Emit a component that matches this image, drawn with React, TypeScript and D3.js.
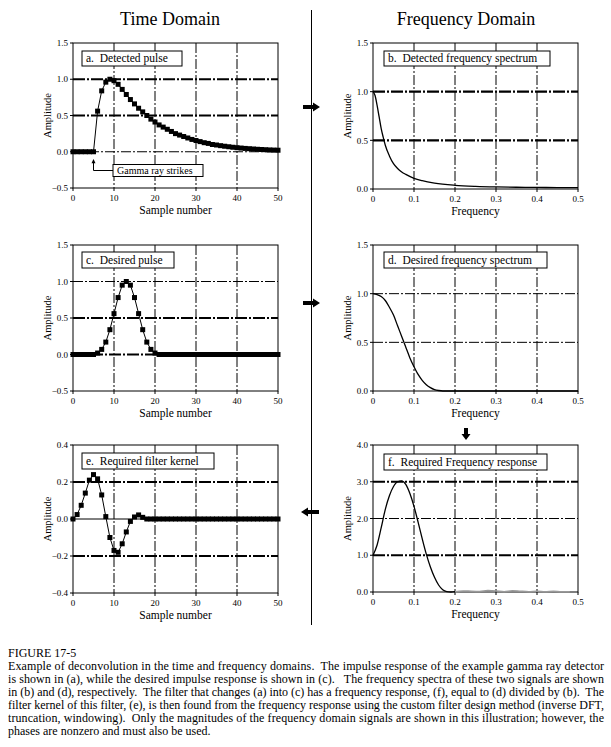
import React from "react";
import * as d3 from "d3";

// ---------- tick values ----------
const sampleTicks = [0, 10, 20, 30, 40, 50];
const freqTicks = [0, 0.1, 0.2, 0.3, 0.4, 0.5];
const pulseTicks = [-0.5, 0, 0.5, 1.0, 1.5];
const specTicks = [0, 0.5, 1.0, 1.5];
const kernelTicks = [-0.4, -0.2, 0, 0.2, 0.4];
const responseTicks = [0, 1, 2, 3, 4];

// ---------- time-domain data (sample 0..50) ----------
const detectedPulse = [
  0, 0, 0, 0, 0, 0, 0.56, 0.84, 0.96, 1.0, 0.98, 0.93, 0.86, 0.79, 0.72, 0.66,
  0.6, 0.55, 0.5, 0.45, 0.41, 0.37, 0.34, 0.31, 0.28, 0.25, 0.23, 0.21, 0.19,
  0.17, 0.155, 0.14, 0.125, 0.115, 0.1, 0.093, 0.084, 0.076, 0.069, 0.062,
  0.056, 0.051, 0.046, 0.042, 0.038, 0.034, 0.031, 0.028, 0.025, 0.023, 0.021,
];
const desiredPulse = [
  0, 0, 0, 0, 0, 0, 0.02, 0.07, 0.17, 0.34, 0.56, 0.78, 0.95, 1.0, 0.95, 0.78,
  0.56, 0.34, 0.17, 0.07, 0.02, 0, 0, 0, 0, 0, 0, 0, 0, 0, 0, 0, 0, 0, 0, 0, 0,
  0, 0, 0, 0, 0, 0, 0, 0, 0, 0, 0, 0, 0, 0,
];
const filterKernel = [
  0, 0.024, 0.074, 0.14, 0.21, 0.24, 0.217, 0.13, 0.013, -0.1, -0.17, -0.18,
  -0.134, -0.07, -0.013, 0.011, 0.022, 0.009, 0, 0, 0, 0, 0, 0, 0, 0, 0, 0, 0,
  0, 0, 0, 0, 0, 0, 0, 0, 0, 0, 0, 0, 0, 0, 0, 0, 0, 0, 0, 0, 0, 0,
];

// ---------- frequency-domain data ----------
const detectedFreq = [0, 0.005, 0.01, 0.015, 0.02, 0.025, 0.03, 0.04, 0.05, 0.06, 0.07, 0.08, 0.1, 0.12, 0.15, 0.2, 0.25, 0.3, 0.35, 0.4, 0.45, 0.5];
const detectedSpectrum = [1.0, 0.96, 0.86, 0.74, 0.62, 0.53, 0.45, 0.34, 0.26, 0.21, 0.175, 0.15, 0.11, 0.085, 0.06, 0.038, 0.027, 0.021, 0.018, 0.016, 0.015, 0.015];

const desiredFreq = [0, 0.01, 0.02, 0.03, 0.04, 0.05, 0.06, 0.07, 0.08, 0.09, 0.1, 0.11, 0.12, 0.13, 0.14, 0.15, 0.16, 0.17, 0.18, 0.5];
const desiredSpectrum = [1.0, 0.99, 0.97, 0.93, 0.86, 0.78, 0.67, 0.56, 0.45, 0.34, 0.25, 0.17, 0.11, 0.065, 0.035, 0.015, 0.005, 0.0, 0.0, 0.0];

const responseFreq = [0, 0.01, 0.02, 0.03, 0.04, 0.05, 0.06, 0.07, 0.08, 0.09, 0.1, 0.11, 0.12, 0.13, 0.14, 0.15, 0.16, 0.17, 0.18, 0.19, 0.2];
const responseValue = [1.0, 1.28, 1.75, 2.25, 2.62, 2.87, 3.0, 3.02, 2.93, 2.68, 2.33, 1.9, 1.45, 1.03, 0.68, 0.4, 0.19, 0.06, 0.01, 0.0, 0.01];
const responseTailFreq = [0.2, 0.22, 0.24, 0.26, 0.28, 0.3, 0.32, 0.34, 0.36, 0.38, 0.4, 0.42, 0.44, 0.46, 0.48];
const responseTailValue = [0.01, 0.03, 0.02, 0.015, 0.04, 0.03, 0.01, 0.035, 0.02, 0.01, 0.02, 0.01, 0.02, 0.01, 0.01];

const captionLines = [
  "Example of deconvolution in the time and frequency domains.  The impulse response of the example gamma ray detector",
  "is shown in (a), while the desired impulse response is shown in (c).   The frequency spectra of these two signals are shown",
  "in (b) and (d), respectively.  The filter that changes (a) into (c) has a frequency response, (f), equal to (d) divided by (b).  The",
  "filter kernel of this filter, (e), is then found from the frequency response using the custom filter design method (inverse DFT,",
  "truncation, windowing).  Only the magnitudes of the frequency domain signals are shown in this illustration; however, the",
];
const captionLast = "phases are nonzero and must also be used.";

const FONT = "'Liberation Serif', 'Times New Roman', serif";

type GridStyle = "thick" | "thin" | "solid";

interface PanelProps {
  left: number;
  top: number;
  width: number;
  height: number;
  xDomain: [number, number];
  yDomain: [number, number];
  xTicks: number[];
  yTicks: number[];
  xFmt: (v: number) => string;
  yFmt: (v: number) => string;
  hGrid: { v: number; s: GridStyle }[];
  xLabel: string;
  label: string;
  box: [number, number, number, number];
  render: (x: d3.ScaleLinear<number, number>, y: d3.ScaleLinear<number, number>) => React.ReactNode;
}

function Panel(p: PanelProps) {
  const x = d3.scaleLinear().domain(p.xDomain).range([p.left, p.left + p.width]);
  const y = d3.scaleLinear().domain(p.yDomain).range([p.top + p.height, p.top]);
  const bottom = p.top + p.height;
  const inner = p.xTicks.slice(1, -1);
  return (
    <g>
      {inner.map((t) => (
        <line key={"vx" + t} x1={x(t)} x2={x(t)} y1={p.top} y2={bottom} stroke="#000" strokeWidth={1} strokeDasharray="10,2,2,2" />
      ))}
      {p.hGrid.map((g) => (
        <line
          key={"hg" + g.v}
          x1={p.left}
          x2={p.left + p.width}
          y1={y(g.v)}
          y2={y(g.v)}
          stroke="#000"
          strokeWidth={g.s === "thick" ? 2.2 : 1}
          strokeDasharray={g.s === "thick" ? "12,2,2,2" : g.s === "thin" ? "10,2,2,2" : undefined}
        />
      ))}
      <rect x={p.left} y={p.top} width={p.width} height={p.height} fill="none" stroke="#000" strokeWidth={1} />
      {p.yTicks.map((t) => (
        <g key={"yt" + t}>
          <line x1={p.left - 3} x2={p.left} y1={y(t)} y2={y(t)} stroke="#000" />
          <text x={p.left - 5} y={y(t) + 3.2} textAnchor="end" fontSize={9} fontFamily={FONT}>
            {p.yFmt(t)}
          </text>
        </g>
      ))}
      {p.xTicks.map((t) => (
        <g key={"xt" + t}>
          <line x1={x(t)} x2={x(t)} y1={bottom} y2={bottom + 3} stroke="#000" />
          <text x={x(t)} y={bottom + 13} textAnchor="middle" fontSize={9} fontFamily={FONT}>
            {p.xFmt(t)}
          </text>
        </g>
      ))}
      <text x={p.left + p.width / 2} y={bottom + 26} textAnchor="middle" fontSize={11.5} fontFamily={FONT}>
        {p.xLabel}
      </text>
      <text
        transform={`translate(${p.left - 22},${p.top + p.height / 2}) rotate(-90)`}
        textAnchor="middle"
        fontSize={10.5}
        fontFamily={FONT}
      >
        Amplitude
      </text>
      {p.render(x, y)}
      <rect x={p.box[0]} y={p.box[1]} width={p.box[2]} height={p.box[3]} fill="#fff" stroke="#000" strokeWidth={1} />
      <text x={p.box[0] + 4} y={p.box[1] + p.box[3] - 4} fontSize={11.5} fontFamily={FONT} style={{ whiteSpace: "pre" }}>
        {p.label}
      </text>
    </g>
  );
}

function Samples({ data, x, y }: { data: number[]; x: any; y: any }) {
  const line = d3
    .line<number>()
    .x((_, i) => x(i))
    .y((d) => y(d));
  return (
    <g>
      <path d={line(data) || ""} fill="none" stroke="#000" strokeWidth={1} />
      {data.map((d, i) => (
        <rect key={i} x={x(i) - 2.5} y={y(d) - 2.5} width={5} height={5} fill="#000" />
      ))}
    </g>
  );
}

function Curve({ fx, fy, x, y, color = "#000", w = 1.3 }: { fx: number[]; fy: number[]; x: any; y: any; color?: string; w?: number }) {
  const pts = fx.map((f, i) => [f, fy[i]] as [number, number]);
  const line = d3
    .line<[number, number]>()
    .x((d) => x(d[0]))
    .y((d) => y(d[1]))
    .curve(d3.curveMonotoneX);
  return <path d={line(pts) || ""} fill="none" stroke={color} strokeWidth={w} />;
}

const fmt1 = (v: number) => d3.format(".1f")(v);
const fmtInt = (v: number) => String(v);
const fmtFreq = (v: number) => (v === 0 ? "0" : d3.format(".1f")(v));

export default function App() {
  const LX = 73;
  const RX = 373;
  const W = 205;
  return (
    <svg width={611} height={747} style={{ position: "absolute", left: 0, top: 0, background: "#fff" }}>
      <rect x={0} y={0} width={611} height={747} fill="#fff" />
      <text x={170} y={25} textAnchor="middle" fontSize={18} fontFamily={FONT}>
        Time Domain
      </text>
      <text x={466} y={25} textAnchor="middle" fontSize={18} fontFamily={FONT}>
        Frequency Domain
      </text>
      <line x1={311.5} x2={311.5} y1={10} y2={625} stroke="#000" strokeWidth={1} />

      {/* arrows */}
      <path d="M303,105 L313,105 L313,102.5 L320,107 L313,111.5 L313,109 L303,109 Z" fill="#000" />
      <path d="M303,301 L313,301 L313,298.5 L320,303 L313,307.5 L313,305 L303,305 Z" fill="#000" />
      <path d="M319,510 L308,510 L308,507.5 L301,512 L308,516.5 L308,514 L319,514 Z" fill="#000" />
      <path d="M464,428 L468,428 L468,434 L470.5,434 L466,440 L461.5,434 L464,434 Z" fill="#000" />

      {/* a */}
      <Panel
        left={LX}
        top={43}
        width={W}
        height={145}
        xDomain={[0, 50]}
        yDomain={[-0.5, 1.5]}
        xTicks={sampleTicks}
        yTicks={pulseTicks}
        xFmt={fmtInt}
        yFmt={fmt1}
        hGrid={[
          { v: 1.0, s: "thick" },
          { v: 0.5, s: "thick" },
          { v: 0, s: "thin" },
        ]}
        xLabel="Sample number"
        label="a.  Detected pulse"
        box={[82, 51, 100, 15]}
        render={(x, y) => (
          <g>
            <Samples data={detectedPulse} x={x} y={y} />
            <path d={`M${x(5)},${y(-0.1)} L${x(5) - 2},${y(-0.16)} L${x(5) + 2},${y(-0.16)} Z`} fill="#000" />
            <path d={`M${x(5)},${y(-0.14)} L${x(5)},170.5 L113,170.5`} fill="none" stroke="#000" />
            <rect x={113} y={164.5} width={90} height={12} fill="#fff" stroke="#000" />
            <text x={117} y={174} fontSize={10} fontFamily={FONT}>
              Gamma ray strikes
            </text>
          </g>
        )}
      />

      {/* b */}
      <Panel
        left={RX}
        top={43}
        width={W}
        height={146}
        xDomain={[0, 0.5]}
        yDomain={[0, 1.5]}
        xTicks={freqTicks}
        yTicks={specTicks}
        xFmt={fmtFreq}
        yFmt={fmt1}
        hGrid={[
          { v: 1.0, s: "thick" },
          { v: 0.5, s: "thick" },
        ]}
        xLabel="Frequency"
        label="b.  Detected frequency spectrum"
        box={[384, 51, 166, 15]}
        render={(x, y) => <Curve fx={detectedFreq} fy={detectedSpectrum} x={x} y={y} />}
      />

      {/* c */}
      <Panel
        left={LX}
        top={245}
        width={W}
        height={146}
        xDomain={[0, 50]}
        yDomain={[-0.5, 1.5]}
        xTicks={sampleTicks}
        yTicks={pulseTicks}
        xFmt={fmtInt}
        yFmt={fmt1}
        hGrid={[
          { v: 1.0, s: "thin" },
          { v: 0.5, s: "thick" },
          { v: 0, s: "thick" },
        ]}
        xLabel="Sample number"
        label="c.  Desired pulse"
        box={[82, 252, 92, 16]}
        render={(x, y) => <Samples data={desiredPulse} x={x} y={y} />}
      />

      {/* d */}
      <Panel
        left={RX}
        top={245}
        width={W}
        height={146}
        xDomain={[0, 0.5]}
        yDomain={[0, 1.5]}
        xTicks={freqTicks}
        yTicks={specTicks}
        xFmt={fmtFreq}
        yFmt={fmt1}
        hGrid={[
          { v: 1.0, s: "thin" },
          { v: 0.5, s: "thin" },
        ]}
        xLabel="Frequency"
        label="d.  Desired frequency spectrum"
        box={[384, 252, 163, 16]}
        render={(x, y) => <Curve fx={desiredFreq} fy={desiredSpectrum} x={x} y={y} />}
      />

      {/* e */}
      <Panel
        left={LX}
        top={445}
        width={W}
        height={148}
        xDomain={[0, 50]}
        yDomain={[-0.4, 0.4]}
        xTicks={sampleTicks}
        yTicks={kernelTicks}
        xFmt={fmtInt}
        yFmt={fmt1}
        hGrid={[
          { v: 0.2, s: "thick" },
          { v: 0, s: "solid" },
          { v: -0.2, s: "thick" },
        ]}
        xLabel="Sample number"
        label="e.  Required filter kernel"
        box={[82, 453, 132, 16]}
        render={(x, y) => <Samples data={filterKernel} x={x} y={y} />}
      />

      {/* f */}
      <Panel
        left={RX}
        top={445}
        width={W}
        height={147}
        xDomain={[0, 0.5]}
        yDomain={[0, 4]}
        xTicks={freqTicks}
        yTicks={responseTicks}
        xFmt={fmtFreq}
        yFmt={fmt1}
        hGrid={[
          { v: 3, s: "thick" },
          { v: 2, s: "thin" },
          { v: 1, s: "thick" },
        ]}
        xLabel="Frequency"
        label="f.  Required Frequency response"
        box={[384, 454, 163, 16]}
        render={(x, y) => (
          <g>
            <Curve fx={responseFreq} fy={responseValue} x={x} y={y} />
            <Curve fx={responseTailFreq} fy={responseTailValue} x={x} y={y} color="#999" w={1.5} />
          </g>
        )}
      />

      {/* caption */}
      <text x={8} y={657} fontSize={12} fontFamily={FONT}>
        FIGURE 17-5
      </text>
      {captionLines.map((t, i) => (
        <text
          key={i}
          x={8}
          y={670 + i * 13}
          fontSize={12}
          fontFamily={FONT}
          textLength={596}
          lengthAdjust="spacing"
          style={{ whiteSpace: "pre" }}
        >
          {t}
        </text>
      ))}
      <text x={8} y={670 + 5 * 13} fontSize={12} fontFamily={FONT}>
        {captionLast}
      </text>
    </svg>
  );
}
